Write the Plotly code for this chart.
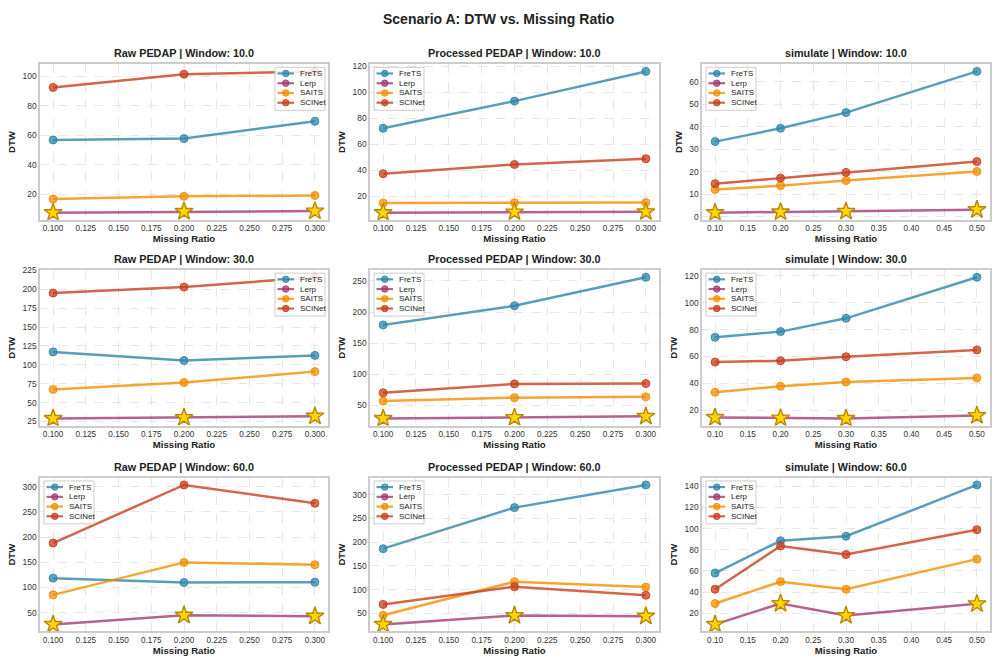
import plotly.graph_objects as go
from plotly.subplots import make_subplots

# ---------------- data ----------------
methods = ["FreTS", "Lerp", "SAITS", "SCINet"]
colors = ["#2E86AB", "#A23B72", "#F18F01", "#C73E1D"]

ratios_pedap = [0.1, 0.2, 0.3]
ratios_sim = [0.1, 0.2, 0.3, 0.5]

raw_w10 = {"FreTS": [56.8, 57.7, 69.5], "Lerp": [7.3, 8.1, 8.4],
           "SAITS": [16.6, 18.4, 19.0], "SCINet": [92.5, 101.5, 103.4]}
proc_w10 = {"FreTS": [72.3, 93.3, 116.2], "Lerp": [7.2, 7.7, 7.9],
            "SAITS": [14.6, 14.9, 15.0], "SCINet": [37.3, 44.4, 48.8]}
sim_w10 = {"FreTS": [33.4, 39.3, 46.3, 64.6], "Lerp": [1.8, 2.1, 2.4, 3.1],
           "SAITS": [12.1, 13.8, 16.1, 20.1], "SCINet": [14.7, 17.2, 19.7, 24.5]}

raw_w30 = {"FreTS": [117.1, 105.7, 112.5], "Lerp": [28.9, 30.2, 32.0],
           "SAITS": [67.3, 76.5, 91.0], "SCINet": [195.0, 203.0, 216.0]}
proc_w30 = {"FreTS": [179.3, 210.1, 255.9], "Lerp": [29.0, 30.5, 32.5],
            "SAITS": [56.9, 62.5, 63.8], "SCINet": [70.2, 84.6, 85.1]}
sim_w30 = {"FreTS": [74.3, 78.5, 88.4, 119.0], "Lerp": [14.6, 14.1, 13.8, 16.0],
           "SAITS": [33.3, 37.8, 41.0, 44.0], "SCINet": [55.8, 56.8, 59.8, 64.9]}

raw_w60 = {"FreTS": [118.4, 109.9, 110.3], "Lerp": [26.6, 44.8, 42.8],
           "SAITS": [85.2, 149.6, 145.1], "SCINet": [188.0, 303.3, 266.8]}
proc_w60 = {"FreTS": [186.4, 273.0, 320.8], "Lerp": [26.5, 45.2, 43.8],
            "SAITS": [45.8, 116.5, 105.4], "SCINet": [68.7, 106.0, 88.0]}
sim_w60 = {"FreTS": [58.0, 88.5, 92.8, 141.2], "Lerp": [9.6, 29.3, 17.9, 29.0],
           "SAITS": [29.3, 49.9, 42.8, 71.2], "SCINet": [42.8, 83.6, 75.5, 99.0]}

panel_titles = ["Raw PEDAP | Window: 10.0", "Processed PEDAP | Window: 10.0", "simulate | Window: 10.0",
                "Raw PEDAP | Window: 30.0", "Processed PEDAP | Window: 30.0", "simulate | Window: 30.0",
                "Raw PEDAP | Window: 60.0", "Processed PEDAP | Window: 60.0", "simulate | Window: 60.0"]
panel_data = [raw_w10, proc_w10, sim_w10, raw_w30, proc_w30, sim_w30, raw_w60, proc_w60, sim_w60]
panel_x = [ratios_pedap, ratios_pedap, ratios_sim] * 3
y_dticks = [20, 20, 10, 25, 50, 20, 50, 50, 20]
legend_right = [True, False, False, True, False, False, False, False, False]

# ---------------- layout geometry (pixels) ----------------
W, H = 996, 668
col_px = [(40, 328), (370, 659), (702, 990)]
row_px = [(60, 217), (268, 425), (478, 633)]

FONT = "Liberation Sans, Arial, Helvetica, sans-serif"


def px_x(v):
    return v / W


def px_y(v):
    return 1 - v / H


def rgba(hexc, a):
    h = hexc.lstrip("#")
    r, g, b = int(h[0:2], 16), int(h[2:4], 16), int(h[4:6], 16)
    return f"rgba({r},{g},{b},{a})"


fig = make_subplots(rows=3, cols=3)
annotations = []
shapes = []

for i in range(9):
    r, c = divmod(i, 3)
    data = panel_data[i]
    xs = panel_x[i]
    for m, col in zip(methods, colors):
        fig.add_trace(go.Scatter(
            x=xs, y=data[m], mode="lines+markers", name=m, showlegend=False,
            line=dict(color=rgba(col, 0.8), width=2.5),
            marker=dict(symbol="circle", size=8, color=rgba(col, 0.75),
                        line=dict(color=rgba(col, 0.9), width=1)),
        ), row=r + 1, col=c + 1)
    # best (minimum) per missing ratio -> star
    best_y = [min(data[m][k] for m in methods) for k in range(len(xs))]
    fig.add_trace(go.Scatter(
        x=xs, y=best_y, mode="markers", showlegend=False, hoverinfo="skip",
        marker=dict(symbol="star", size=13.5, color="#FFD700",
                    line=dict(color="#B8860B", width=1.4)),
    ), row=r + 1, col=c + 1)

    # ranges with 5% padding (matplotlib-like autoscale)
    allv = [v for m in methods for v in data[m]]
    lo, hi = min(allv), max(allv)
    pad = (hi - lo) * 0.05
    xlo, xhi = min(xs), max(xs)
    xpad = (xhi - xlo) * 0.05

    x0, x1 = col_px[c]
    y0, y1 = row_px[r]

    is_sim = (c == 2)
    fig.update_xaxes(
        domain=[px_x(x0), px_x(x1)], range=[xlo - xpad, xhi + xpad],
        dtick=0.05 if is_sim else 0.025, tick0=0.1,
        tickformat=".2f" if is_sim else ".3f",
        showline=True, linecolor="#cccccc", linewidth=1.5, mirror=True,
        showgrid=True, gridcolor="#e6e6e6", griddash="dash", gridwidth=1,
        zeroline=False, ticks="", tickfont=dict(size=8.2, color="#333333", family=FONT),
        title=dict(text="<b>Missing Ratio</b>", font=dict(size=9.6, color="#222222", family=FONT),
                   standoff=3),
        row=r + 1, col=c + 1)
    fig.update_yaxes(
        domain=[px_y(y1), px_y(y0)], range=[lo - pad, hi + pad], dtick=y_dticks[i], tick0=0,
        showline=True, linecolor="#cccccc", linewidth=1.5, mirror=True,
        showgrid=True, gridcolor="#e6e6e6", griddash="dash", gridwidth=1,
        zeroline=False, ticks="", tickfont=dict(size=8.4, color="#333333", family=FONT),
        title=dict(text="<b>DTW</b>", font=dict(size=9.6, color="#222222", family=FONT),
                   standoff=5),
        row=r + 1, col=c + 1)

    annotations.append(dict(
        text=f"<b>{panel_titles[i]}</b>", x=px_x((x0 + x1) / 2), y=px_y(y0 - 3),
        xref="paper", yref="paper", xanchor="center", yanchor="bottom",
        showarrow=False, font=dict(size=10.8, color="#222222", family=FONT)))

    # compact per-panel legend box (layout decoration)
    bw, item_h = 50, 9.85
    bh = 4 * item_h + 4
    if legend_right[i]:
        bx0 = x1 - 3 - bw
    else:
        bx0 = x0 + 4
    by0 = y0 + 3
    shapes.append(dict(type="rect", xref="paper", yref="paper",
                       x0=px_x(bx0), x1=px_x(bx0 + bw), y0=px_y(by0), y1=px_y(by0 + bh),
                       fillcolor="rgba(255,255,255,0.85)", line=dict(color="#cccccc", width=1),
                       layer="above"))
    for k, (m, col) in enumerate(zip(methods, colors)):
        cy = by0 + 6.2 + k * item_h
        shapes.append(dict(type="line", xref="paper", yref="paper",
                           x0=px_x(bx0 + 2.5), x1=px_x(bx0 + 19), y0=px_y(cy), y1=px_y(cy),
                           line=dict(color=rgba(col, 0.8), width=2.2), layer="above"))
        shapes.append(dict(type="circle", xref="paper", yref="paper",
                           x0=px_x(bx0 + 7.5), x1=px_x(bx0 + 14), y0=px_y(cy - 3.25), y1=px_y(cy + 3.25),
                           fillcolor=rgba(col, 0.75), line=dict(color=rgba(col, 0.9), width=1),
                           layer="above"))
        annotations.append(dict(
            text=m, x=px_x(bx0 + 22.5), y=px_y(cy), xref="paper", yref="paper",
            xanchor="left", yanchor="middle", showarrow=False,
            font=dict(size=8, color="#222222", family=FONT)))

annotations.append(dict(
    text="<b>Scenario A: DTW vs. Missing Ratio</b>", x=0.5, y=px_y(4),
    xref="paper", yref="paper", xanchor="center", yanchor="top", showarrow=False,
    font=dict(size=14, color="#222222", family=FONT)))

fig.update_layout(
    width=W, height=H, margin=dict(l=0, r=0, t=0, b=0),
    paper_bgcolor="white", plot_bgcolor="white",
    font=dict(family=FONT, color="#222222"),
    annotations=annotations, shapes=shapes, showlegend=False,
)

fig.write_html("out.html", config={"displayModeBar": False},
               post_script="document.body.style.margin='0';document.body.style.overflow='hidden';")
